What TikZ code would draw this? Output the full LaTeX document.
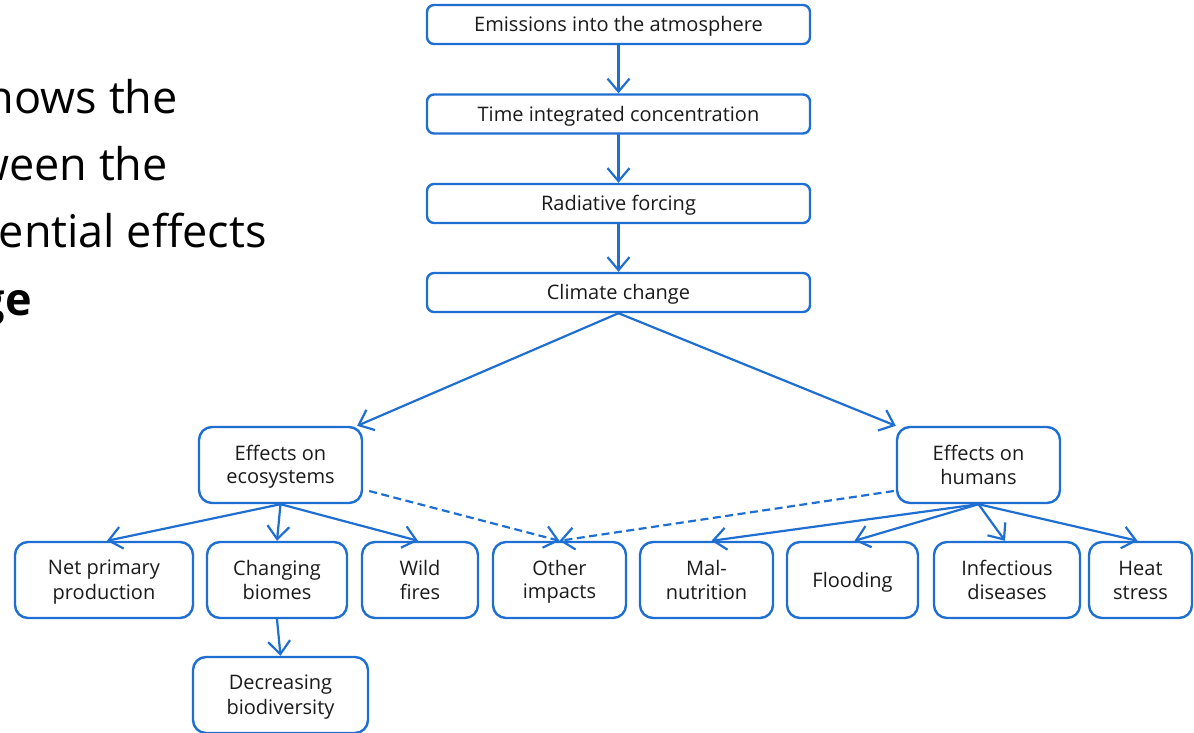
\documentclass[tikz,border=0pt]{standalone}
\usepackage{fontspec}
\setmainfont{Open Sans}
\usetikzlibrary{arrows.meta}
\definecolor{flowblue}{HTML}{1F6FD2}
\definecolor{ink}{HTML}{1A1A1A}
% line strut: 19pt above the baseline, 4pt below
\newcommand\ls{\rule[-4pt]{0pt}{23pt}}

\begin{document}
\begin{tikzpicture}[x=1pt,y=-1pt,
  box/.style={draw=flowblue, line width=2.4pt, rounded corners=7pt, text=ink,
    font=\fontsize{20}{23.5}\selectfont, align=center, inner sep=0pt,
    minimum height=39pt},
  chainbox/.style={box, minimum width=383pt},
  ebox/.style={box, rounded corners=13pt, minimum height=76pt},
  link/.style={draw=flowblue, line width=2.2pt, line cap=round,
    -{Straight Barb[length=13pt,width=22pt,line width=2.2pt]}},
  weak/.style={link, line cap=butt, dash pattern=on 8pt off 4.5pt},
  lead/.style={inner sep=0pt, anchor=base east, text=black,
    font=\fontsize{45}{67}\selectfont},
]
\useasboundingbox (0,0) rectangle (1194,732);

% text running in from the left margin
\node[lead] (l1) at (178,113) {hows the};
\node[lead] (l2) at (168,180) {ween the};
\node[lead] (l3) at (267,247) {ential effects};
\node[lead, font=\fontsize{45}{67}\selectfont\bfseries] (l4) at (32,315) {ge};

% causal chain
\node[chainbox] (emis) at (618.5,24.5) {\ls Emissions into the atmosphere};
\node[chainbox] (conc) at (618.5,114) {\ls Time integrated concentration};
\node[chainbox] (forc) at (618.5,203.5) {\ls Radiative forcing};
\node[chainbox] (clim) at (618.5,292.5) {\ls Climate change};

% two branches
\node[ebox, minimum width=163pt] (eco) at (280.5,465) {\ls Effects on\\\ls ecosystems};
\node[ebox, minimum width=163pt] (hum) at (978.5,465) {\ls Effects on\\\ls humans};

% effects
\node[ebox, minimum width=178pt] (npp)  at (104,580)    {\ls Net primary\\\ls production};
\node[ebox, minimum width=140pt] (biom) at (277,580)    {\ls Changing\\\ls biomes};
\node[ebox, minimum width=116pt] (fire) at (420,580)    {\ls Wild\\\ls fires};
\node[ebox, minimum width=133pt] (oth)  at (559.5,580)  {\ls Other\\\ls impacts};
\node[ebox, minimum width=133pt] (mal)  at (706.5,580)  {\ls Mal-\\\ls nutrition};
\node[ebox, minimum width=131pt] (flood) at (852.5,580) {\ls Flooding};
\node[ebox, minimum width=146pt] (inf)  at (1007,580)   {\ls Infectious\\\ls diseases};
\node[ebox, minimum width=103pt] (heat) at (1140.5,580) {\ls Heat\\\ls stress};
\node[ebox, minimum width=175pt] (bio)  at (280.5,695)  {\ls Decreasing\\\ls biodiversity};

% connectors
\draw[link] (emis) -- (conc);
\draw[link] (conc) -- (forc);
\draw[link] (forc) -- (clim);
\draw[link] (clim.south) -- ([xshift=-6pt]eco.north east);
\draw[link] (clim.south) -- (hum.north west);

\draw[link] (eco.south) -- ([xshift=3pt]npp.north);
\draw[link] (eco.south) -- (biom.north);
\draw[link] (eco.south) -- ([xshift=-2pt]fire.north);
\draw[link] (biom.south) -- (bio.north);

\draw[link] (hum.south) -- ([xshift=5pt]mal.north);
\draw[link] (hum.south) -- ([xshift=2pt]flood.north);
\draw[link] (hum.south) -- ([xshift=-2pt]inf.north);
\draw[link] (hum.south) -- ([xshift=-3pt]heat.north);

\draw[weak] ([shift={(6,26)}]eco.east) -- (oth.north);
\draw[weak] ([shift={(-2,26)}]hum.west) -- (oth.north);
\end{tikzpicture}
\end{document}
